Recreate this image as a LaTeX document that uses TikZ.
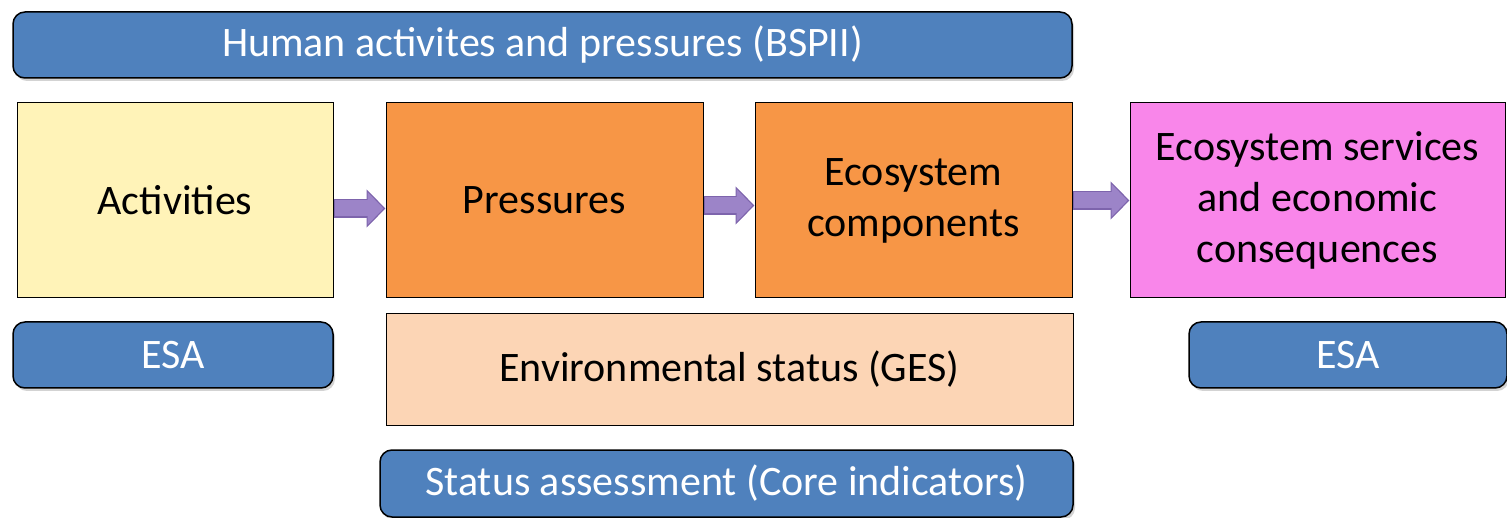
\documentclass[tikz,border=0pt]{standalone}
\usepackage{fontspec}
\setmainfont{Carlito}
\usetikzlibrary{arrows.meta,shadows}

\definecolor{hdrblue}{HTML}{4F81BD}
\definecolor{actyellow}{HTML}{FFF3B8}
\definecolor{presorange}{HTML}{F79646}
\definecolor{servpink}{HTML}{F986EA}
\definecolor{envpeach}{HTML}{FCD5B5}
\definecolor{arrpurple}{HTML}{9C84C8}
\definecolor{arredge}{HTML}{7D64AC}

\tikzset{
  bluebar/.style={draw=black, line width=1.5pt, fill=hdrblue, rounded corners=12pt,
    text=white, inner sep=0pt, drop shadow={shadow xshift=2pt, shadow yshift=-3pt, opacity=.35}},
  stagebox/.style={draw=black, line width=1pt, inner sep=0pt, align=center},
  flowarrow/.style={line width=19pt, arredge, -{Triangle[length=19pt,width=37pt]}},
  flowinner/.style={line width=16pt, arrpurple, -{Triangle[length=16pt,width=32pt]}, shorten >=2pt}
}

\begin{document}
\begin{tikzpicture}[x=1pt, y=-1pt, font=\fontsize{42}{51}\selectfont]
            \useasboundingbox (0,0) rectangle (1507,518);

            \node[bluebar, minimum width=1059pt, minimum height=66pt] (hum) at (542.5,45) {Human activites and pressures (BSPII)};

            % the four stages
            \foreach \n/\c/\w/\f/\t in {act/175/316/actyellow/Activities,
                                      pres/544.5/317/presorange/Pressures,
                                      eco/913.5/317/presorange/Ecosystem\\components,
                                      serv/1317.5/375/servpink/Ecosystem services\\and economic\\consequences} {
            \node[stagebox, fill=\f, minimum width=\w pt, minimum height=195pt] (\n) at (\c,200.5) {\t};}

            \node[bluebar, minimum width=320pt, minimum height=66pt] (esaL) at (173,355) {ESA};
            \node[stagebox, fill=envpeach, minimum width=687pt, minimum height=111pt] (env) at (729.5,369.5) {Environmental status (GES)};
            \node[bluebar, minimum width=318pt, minimum height=66pt] (esaR) at (1348,355) {ESA};
            \node[bluebar, minimum width=693pt, minimum height=67pt] (stat) at (726.5,483.5) {Status assessment (Core indicators)};

            % block arrows between the stages
            \foreach \a/\b/\dy in {act/pres/8, pres/eco/5, eco/serv/0} {
            \draw [flowarrow] ([yshift=-\dy pt]\a.east) -- ([yshift=-\dy pt]\b.west);
            \draw [flowinner] ([xshift=1pt,yshift=-\dy pt]\a.east) -- ([yshift=-\dy pt]\b.west);}
        \end{tikzpicture}
\end{document}
